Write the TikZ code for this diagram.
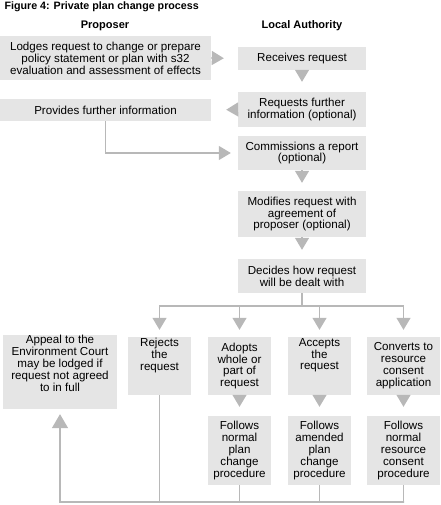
\documentclass[tikz,border=0pt]{standalone}
\usepackage{fontspec}
\setmainfont{Liberation Sans}
\usetikzlibrary{arrows.meta}
\definecolor{boxc}{HTML}{E5E5E5}
\definecolor{linec}{HTML}{B8B8B8}
\tikzset{
  box/.style={fill=boxc, draw=none, align=center, inner sep=0pt,
    font=\fontsize{11.6}{11.9}\selectfont},
  hdr/.style={font=\fontsize{11}{13}\selectfont\bfseries},
  conn/.style={draw=linec, line width=1.3pt},
  tipc/.style={-{Triangle[length=12pt,width=14pt,fill=linec]}, draw=linec, line width=1.3pt},
}
\begin{document}
\begin{tikzpicture}[x=1pt,y=-1pt]
\useasboundingbox (0,0) rectangle (440,505);
\node[anchor=west, font=\fontsize{10.7}{12}\selectfont\bfseries] (title) at (1,7) {Figure 4: Private plan change process};
\node[hdr] (hprop) at (105,26) {Proposer};
\node[hdr] (hla) at (302,26) {Local Authority};

\node[box, minimum width=211pt, minimum height=44pt] (lodge) at (105.5,58) {Lodges request to change or prepare\\policy statement or plan with s32\\evaluation and assessment of effects};
\node[box, minimum width=128pt, minimum height=23pt] (rec) at (302,58.5) {Receives request};
\node[box, minimum width=128pt, minimum height=35pt] (req) at (302,109.5) {Requests further\\information (optional)};
\node[box, minimum width=211pt, minimum height=22pt] (prov) at (105.5,110) {Provides further information};
\node[box, minimum width=128pt, minimum height=34pt] (comm) at (302,153) {Commissions a report\\(optional)};
\node[box, minimum width=128pt, minimum height=46pt] (mod) at (302,214) {Modifies request with\\agreement of\\proposer (optional)};
\node[box, minimum width=128pt, minimum height=34pt] (dec) at (302,276) {Decides how request\\will be dealt with};

\node[box, minimum width=114pt, minimum height=70pt] (app) at (60,372) {Appeal to the\\Environment Court\\may be lodged if\\request not agreed\\to in full\\[6pt]};
\node[box, minimum width=63pt, minimum height=58pt] (rej) at (159.5,366) {Rejects\\the\\request\\[11.9pt]};
\node[box, minimum width=63pt, minimum height=58pt] (adp) at (239.5,366) {Adopts\\whole or\\part of\\request};
\node[box, minimum width=63pt, minimum height=58pt] (acc) at (319.5,366) {Accepts\\the\\request\\[11.9pt]};
\node[box, minimum width=73pt, minimum height=58pt] (con) at (403.5,366) {Converts to\\resource\\consent\\application};
\node[box, minimum width=63pt, minimum height=69pt] (adpf) at (239.5,450.5) {Follows\\normal\\plan\\change\\procedure};
\node[box, minimum width=63pt, minimum height=69pt] (accf) at (319.5,450.5) {Follows\\amended\\plan\\change\\procedure};
\node[box, minimum width=73pt, minimum height=69pt] (conf) at (403.5,450.5) {Follows\\normal\\resource\\consent\\procedure};

% gap arrows
\draw[tipc, shorten >=14pt] (lodge.east) -- (rec.west);
\draw[tipc, shorten >=10pt] (rec.south) -- (req.north);
\draw[tipc, shorten >=15pt] (req.west) -- (prov.east);
\draw[tipc, shorten >=7pt] (prov.south) |- (comm.west);
\draw[tipc, shorten >=8pt] (comm.south) -- (mod.north);
\draw[tipc, shorten >=9pt] (mod.south) -- (dec.north);
\draw[tipc, shorten >=9pt] (adp.south) -- (adpf.north);
\draw[tipc, shorten >=9pt] (acc.south) -- (accf.north);
\draw[tipc, shorten >=9pt] (con.south) -- (conf.north);

% decision branches
\coordinate (split) at (302,306);
\draw[conn] (dec.south) -- (split);
\draw[tipc, shorten >=7pt] (split) -| (rej.north);
\draw[tipc, shorten >=7pt] (split) -| (adp.north);
\draw[tipc, shorten >=7pt] (split) -| (acc.north);
\draw[tipc, shorten >=7pt] (split) -| (con.north);

% bottom return
\coordinate (bot) at (404,502);
\draw[conn] (rej.south) -- (rej.south |- bot);
\draw[conn] (adpf.south) -- (adpf.south |- bot);
\draw[conn] (accf.south) -- (accf.south |- bot);
\draw[-{Triangle[length=14pt,width=16pt,fill=linec]}, draw=linec, line width=1.3pt, shorten >=5pt] (conf.south) |- (bot) -| (app.south);
\end{tikzpicture}
\end{document}
